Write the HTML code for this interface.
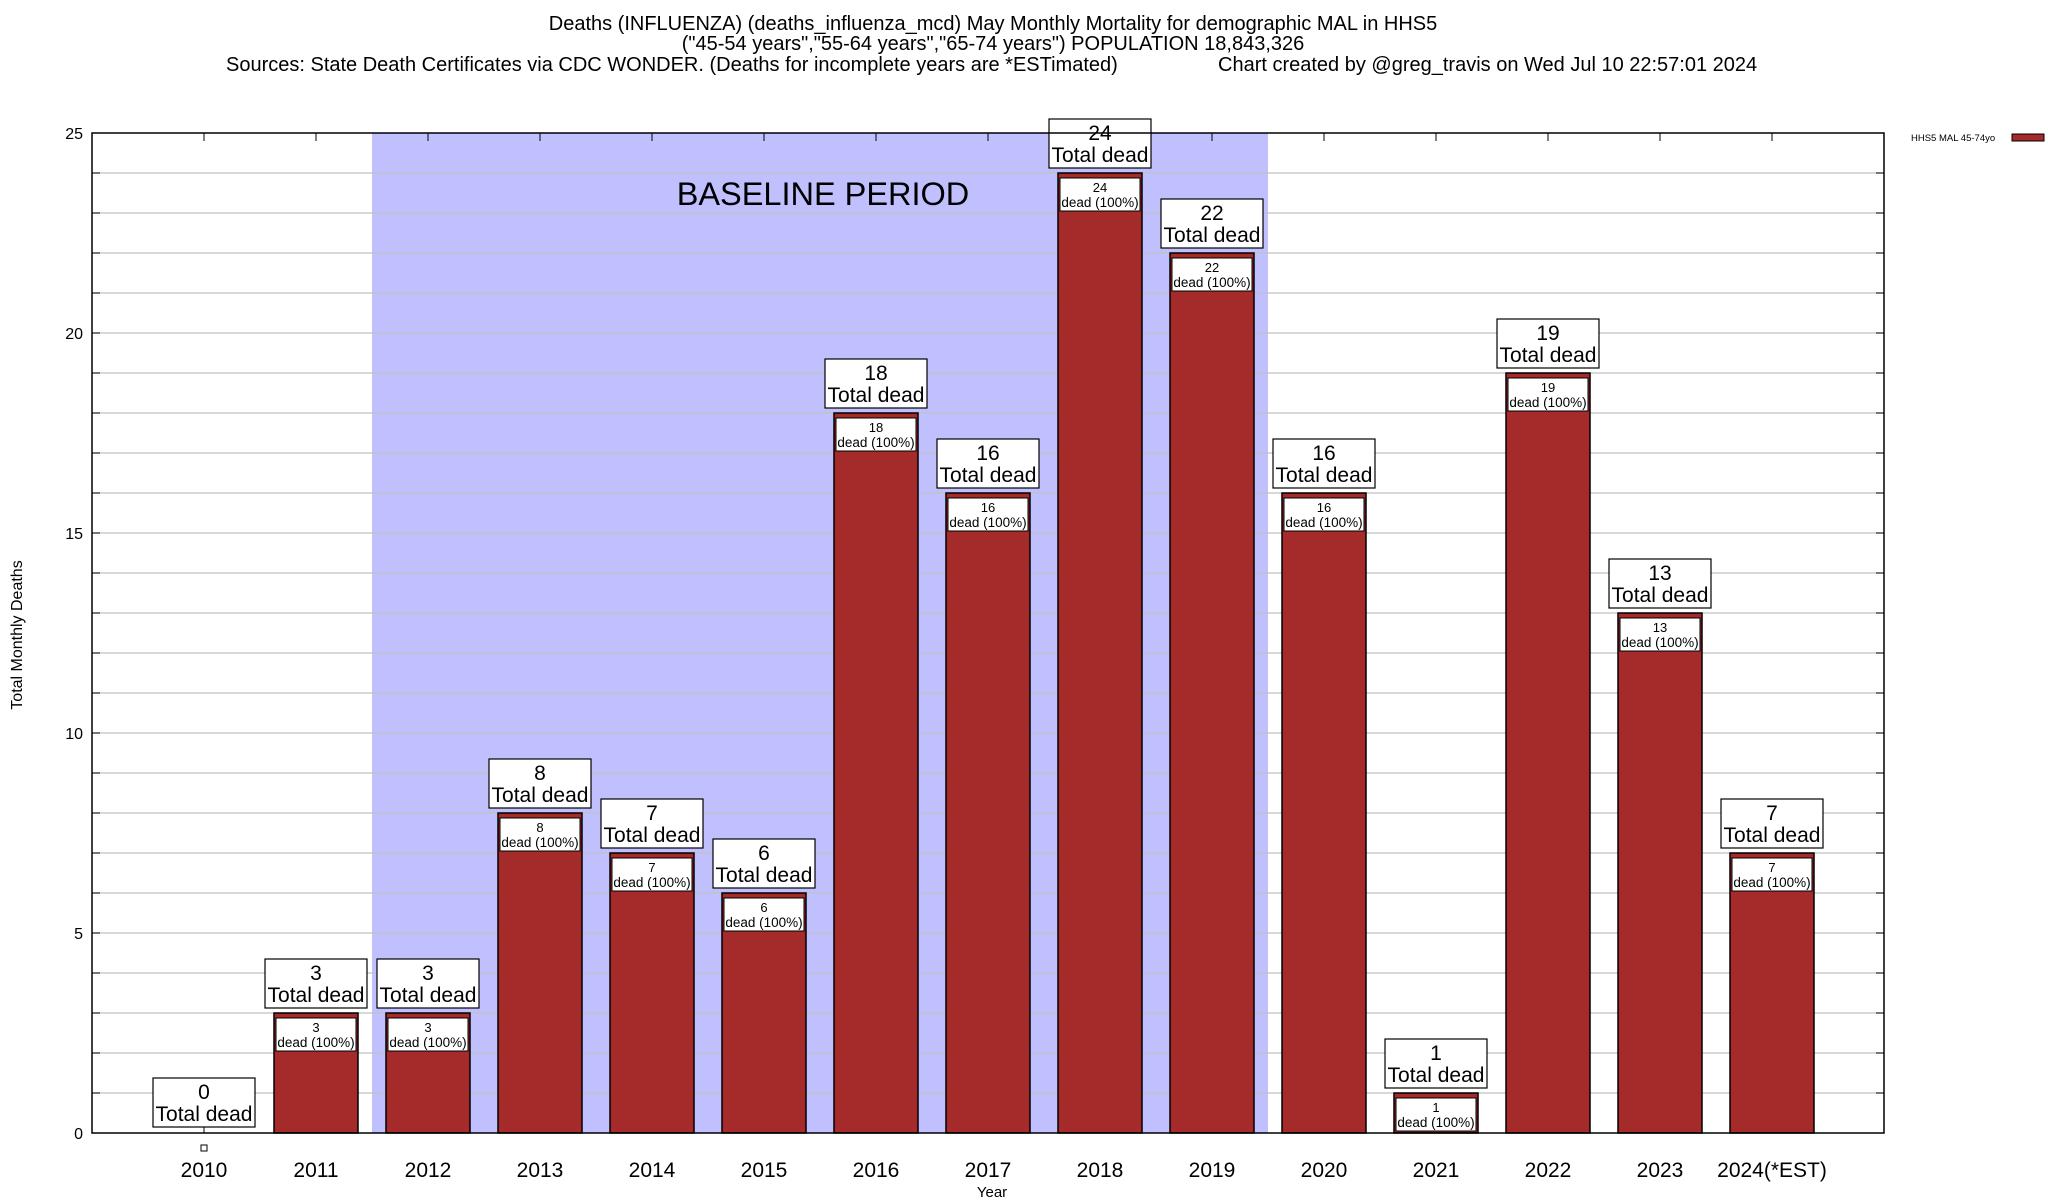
<!DOCTYPE html>
<html><head><meta charset="utf-8"><style>
html,body{margin:0;padding:0;background:#fff}
svg{display:block;font-family:"Liberation Sans",Arial,sans-serif}
</style></head><body>
<svg id="c" width="2048" height="1200" viewBox="0 0 2048 1200"></svg>
<script>
const categories=["2010","2011","2012","2013","2014","2015","2016","2017","2018","2019","2020","2021","2022","2023","2024(*EST)"];
const deaths=[0,3,3,8,7,6,18,16,24,22,16,1,19,13,7];
const yTicks=[0,5,10,15,20,25];
const baselineRange=[1.5,9.5];
const NS="http://www.w3.org/2000/svg";
const svg=document.getElementById('c');
const L=92,R=1884,T=133,B=1133;
const xs=i=>L+(i+1)*(R-L)/16;
const ys=v=>B-v*(B-T)/25;
function el(tag,attrs,parent,text){const e=document.createElementNS(NS,tag);for(const k in attrs)e.setAttribute(k,attrs[k]);if(text!==undefined)e.textContent=text;(parent||svg).appendChild(e);return e;}
let t;
t=el('text',{x:993,y:30,'text-anchor':'middle','font-size':20},svg,'Deaths (INFLUENZA) (deaths_influenza_mcd) May Monthly Mortality for demographic MAL in HHS5');


t=el('text',{x:993,y:50,'text-anchor':'middle','font-size':20},svg,'("45-54 years","55-64 years","65-74 years") POPULATION 18,843,326');


t=el('text',{x:226,y:71,'font-size':20},svg,'Sources: State Death Certificates via CDC WONDER. (Deaths for incomplete years are *ESTimated)');


t=el('text',{x:1218,y:71,'font-size':20},svg,'Chart created by @greg_travis on Wed Jul 10 22:57:01 2024');


const bl=el('rect',{x:xs(baselineRange[0]),y:T,width:xs(baselineRange[1])-xs(baselineRange[0]),height:B-T,fill:'#c0c0ff'});


for(let v=1;v<25;v++){const g=el('line',{x1:L,x2:R,y1:ys(v),y2:ys(v),stroke:'#c0c0c0','stroke-width':1.3});


el('line',{x1:L,x2:L+8,y1:ys(v),y2:ys(v),stroke:'#000'});el('line',{x1:R-8,x2:R,y1:ys(v),y2:ys(v),stroke:'#000'});}
t=el('text',{x:823,y:205,'text-anchor':'middle','font-size':32.5},svg,'BASELINE PERIOD');


yTicks.forEach(v=>{const e=el('text',{x:83,y:ys(v)+6,'text-anchor':'end','font-size':16},svg,String(v));

});
const bw=84;
categories.forEach((c,i)=>{
 const x=xs(i),v=deaths[i],y=ys(v);
 el('line',{x1:x,x2:x,y1:T,y2:T+8,stroke:'#000'});el('line',{x1:x,x2:x,y1:B-8,y2:B,stroke:'#000'});
 const lab=el('text',{x:x,y:1177,'text-anchor':'middle','font-size':21},svg,c);
 
 
 if(v>0){
  const b=el('rect',{x:x-bw/2,y:y,width:bw,height:B-y,fill:'#a52a2a',stroke:'#000','stroke-width':1.5});
  
  
  const g=el('g',{});
  
  
  el('rect',{x:x-40,y:y+5,width:80,height:33,fill:'#fff',stroke:'#000','stroke-width':1},g);
  el('text',{x:x,y:y+19,'text-anchor':'middle','font-size':13},g,String(v));
  el('text',{x:x,y:y+34,'text-anchor':'middle','font-size':13.5},g,'dead (100%)');
 } else {
  const m=el('rect',{x:x-3,y:B+12,width:6,height:6,fill:'#fff',stroke:'#000'});
  
  
 }
 const off=v>0?5:6;
 const g2=el('g',{});
 
 
 el('rect',{x:x-51,y:y-off-49,width:102,height:49,fill:'#fff',stroke:'#000','stroke-width':1.2},g2);
 el('text',{x:x,y:y-off-28,'text-anchor':'middle','font-size':21},g2,String(v));
 el('text',{x:x,y:y-off-6,'text-anchor':'middle','font-size':21},g2,'Total dead');
});
const fr=el('rect',{x:L,y:T,width:R-L,height:B-T,fill:'none',stroke:'#000','stroke-width':1.5});


t=el('text',{x:0,y:0,'text-anchor':'middle','font-size':16,transform:'translate(22,635) rotate(-90)'},svg,'Total Monthly Deaths');


t=el('text',{x:992,y:1197,'text-anchor':'middle','font-size':15},svg,'Year');


const lg=el('g',{});


el('text',{x:1911,y:141,'font-size':9.5},lg,'HHS5 MAL 45-74yo');
el('rect',{x:2012,y:134,width:32,height:7,fill:'#a52a2a',stroke:'#000'},lg);
</script>
</body></html>
